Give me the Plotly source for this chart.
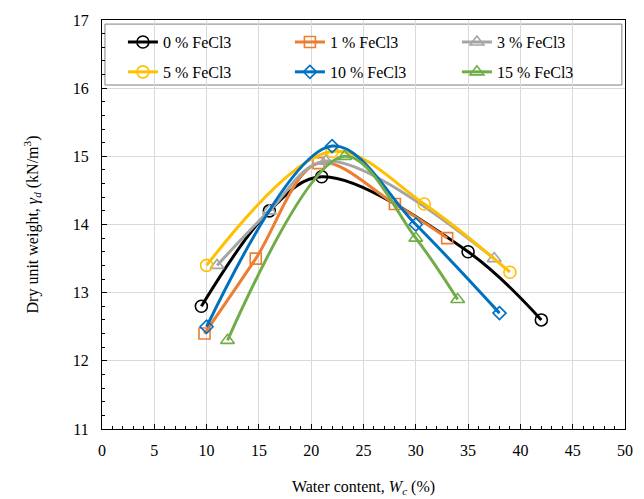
import plotly.graph_objects as go

# water content (%) and dry unit weight (kN/m3)
names = ["0 % FeCl3", "1 % FeCl3", "3 % FeCl3", "5 % FeCl3", "10 % FeCl3", "15 % FeCl3"]

wc_0 = [9.5, 16.0, 21.0, 35.0, 42.0]
gd_0 = [12.8, 14.2, 14.7, 13.6, 12.6]

wc_1 = [9.8, 14.7, 20.7, 28.0, 33.0]
gd_1 = [12.4, 13.5, 14.9, 14.3, 13.8]

wc_3 = [11.0, 16.0, 21.4, 37.5]
gd_3 = [13.4, 14.2, 14.93, 13.5]

wc_5 = [10.0, 22.0, 30.8, 39.0]
gd_5 = [13.4, 15.07, 14.3, 13.3]

wc_10 = [10.0, 22.0, 30.0, 38.0]
gd_10 = [12.5, 15.15, 14.0, 12.7]

wc_15 = [12.0, 23.2, 30.0, 34.0]
gd_15 = [12.3, 15.0, 13.8, 12.9]

colors = ["#000000", "#ED7D31", "#A5A5A5", "#FFC000", "#0070C0", "#70AD47"]
symbols = ["circle-open", "square-open", "triangle-up-open", "circle-open", "diamond-open", "triangle-up-open"]
sizes = [12, 11, 12, 12, 10, 12]
legends = ["legend", "legend", "legend", "legend2", "legend2", "legend2"]

xs = [wc_0, wc_1, wc_3, wc_5, wc_10, wc_15]
ys = [gd_0, gd_1, gd_3, gd_5, gd_10, gd_15]

fig = go.Figure()
for name, x, y, c, s, sz, lg in zip(names, xs, ys, colors, symbols, sizes, legends):
    fig.add_trace(go.Scatter(
        x=x, y=y, name=name, mode="lines+markers", legend=lg,
        line=dict(color=c, width=3, shape="spline", smoothing=1.0),
        marker=dict(symbol=s, size=sz, color=c, line=dict(color=c, width=1.6)),
    ))

font = "Liberation Serif"

# legend frame drawn as a shape so both legend rows share one box
fig.add_shape(type="rect", xref="paper", yref="paper",
              x0=0.0057, x1=0.994, y0=0.841, y1=0.990,
              fillcolor="white", line=dict(color="#7F7F7F", width=1), layer="between")

leg = dict(orientation="h", x=0.04, xanchor="left", yanchor="middle",
           entrywidth=122, entrywidthmode="pixels", bgcolor="rgba(0,0,0,0)",
           borderwidth=0, font=dict(family=font, size=16))

# the page adds an 8px body margin, so the figure is a bit smaller than the window
fig.update_layout(
    width=636, height=491,
    margin=dict(l=94, r=19, t=12, b=70),
    paper_bgcolor="white", plot_bgcolor="white",
    font=dict(family=font, size=16, color="black"),
    showlegend=True,
    legend=dict(leg, y=0.946),
    legend2=dict(leg, y=0.873),
    xaxis=dict(
        range=[0, 50], dtick=5, tick0=0, automargin=False,
        showgrid=True, gridcolor="#D9D9D9", gridwidth=1,
        showline=True, linecolor="black", linewidth=1.3, mirror=True,
        ticks="inside", ticklen=5, tickcolor="black", ticklabelstandoff=7,
        minor=dict(dtick=1, ticks="inside", ticklen=3, tickcolor="black", showgrid=False),
        zeroline=False,
        title=dict(text="Water content, <i>W<sub>c</sub></i> (%)", standoff=22,
                   font=dict(family=font, size=16)),
        tickfont=dict(family=font, size=16),
    ),
    yaxis=dict(
        range=[11, 17], dtick=1, tick0=11, automargin=False,
        showgrid=True, gridcolor="#D9D9D9", gridwidth=1,
        showline=True, linecolor="black", linewidth=1.3, mirror=True,
        ticks="inside", ticklen=5, tickcolor="black", ticklabelstandoff=9,
        minor=dict(dtick=0.2, ticks="inside", ticklen=3, tickcolor="black", showgrid=False),
        zeroline=False,
        title=dict(text="Dry unit weight, <i>γ<sub>d</sub></i> (kN/m<sup>3</sup>)", standoff=30,
                   font=dict(family=font, size=16)),
        tickfont=dict(family=font, size=16),
    ),
)

fig.write_html("out.html")
